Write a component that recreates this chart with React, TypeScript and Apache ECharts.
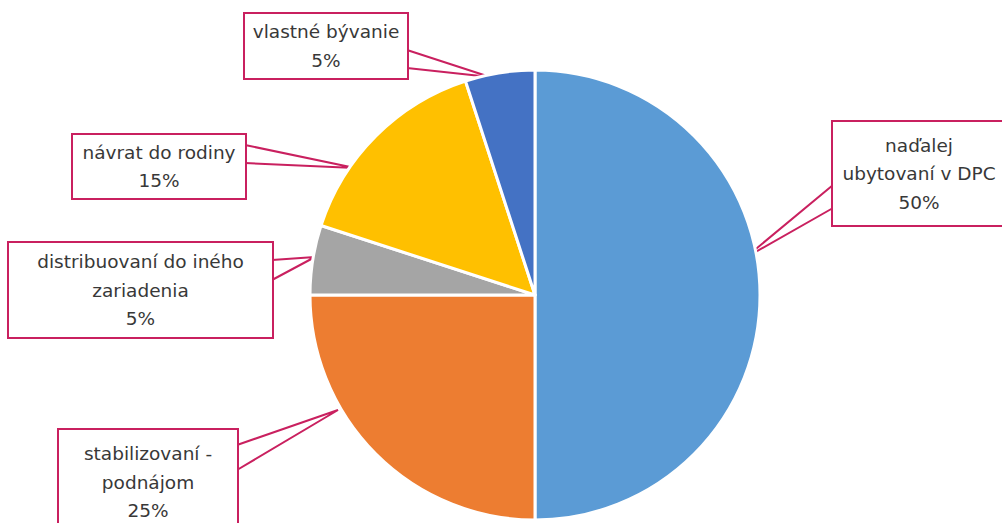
import React, { useEffect, useRef } from "react";
import * as echarts from "echarts";

const categories = [
  "naďalej ubytovaní v DPC",
  "stabilizovaní - podnájom",
  "distribuovaní do iného zariadenia",
  "návrat do rodiny",
  "vlastné bývanie",
];
const wrappedNames = [
  "naďalej\nubytovaní v DPC",
  "stabilizovaní -\npodnájom",
  "distribuovaní do iného\nzariadenia",
  "návrat do rodiny",
  "vlastné bývanie",
];
const values = [50, 25, 5, 15, 5];
const colors = ["#5B9BD5", "#ED7D31", "#A5A5A5", "#FFC000", "#4472C4"];

// callout boxes: [centerX, centerY, width, height], wedge [edgeX, y1, y2, tipX, tipY]
const boxes = [
  [919, 173.5, 172, 103],
  [148, 482, 178, 104],
  [140.5, 290, 263, 94],
  [159, 166.5, 172, 63],
  [326, 46, 162, 64],
];
const wedges = [
  [833, 185, 208, 745, 258],
  [237, 445, 470, 338, 410],
  [272, 260, 280, 315, 257],
  [245, 145, 163, 355, 168],
  [407, 50, 68, 490, 77],
];

const LINE_H = 28.5;
const PINK = "#C9205F";

export default function App() {
  const ref = useRef<HTMLDivElement>(null);
  useEffect(() => {
    document.body.style.margin = "0";
    const chart = echarts.init(ref.current!, null, { renderer: "svg" });
    const data = categories.map((name, i) => {
      const lines = wrappedNames[i].split("\n").length + 1;
      const [, , w, h] = boxes[i];
      const padV = Math.max(0, (h - lines * LINE_H) / 2);
      return {
        name,
        value: values[i],
        itemStyle: { color: colors[i] },
        label: {
          width: w,
          padding: [padV + 3, 0, padV - 3, 0],
        },
      };
    });
    chart.setOption({
      animation: false,
      backgroundColor: "#ffffff",
      series: [
        {
          type: "pie",
          center: [535, 295],
          radius: 225,
          startAngle: 90,
          clockwise: true,
          avoidLabelOverlap: false,
          data,
          itemStyle: { borderColor: "#ffffff", borderWidth: 3 },
          label: {
            show: true,
            position: "outside",
            formatter: (p: any) => `${wrappedNames[p.dataIndex]}\n${p.value}%`,
            fontFamily: "DejaVu Sans",
            fontSize: 18.5,
            color: "#383838",
            lineHeight: LINE_H,
            align: "center",
            verticalAlign: "middle",
            backgroundColor: "#ffffff",
            borderColor: PINK,
            borderWidth: 2,
          },
          labelLine: {
            show: true,
            lineStyle: { color: PINK, width: 2 },
          },
          labelLayout: (params: any) => {
            const i = params.dataIndex;
            const [cx, cy] = boxes[i];
            const [ex, y1, y2, tx, ty] = wedges[i];
            return {
              x: cx,
              y: cy,
              align: "center",
              verticalAlign: "middle",
              labelLinePoints: [
                [ex, y1],
                [tx, ty],
                [ex, y2],
              ],
            };
          },
        },
      ],
    });
    return () => chart.dispose();
  }, []);
  return <div ref={ref} style={{ width: 1002, height: 523 }} />;
}
